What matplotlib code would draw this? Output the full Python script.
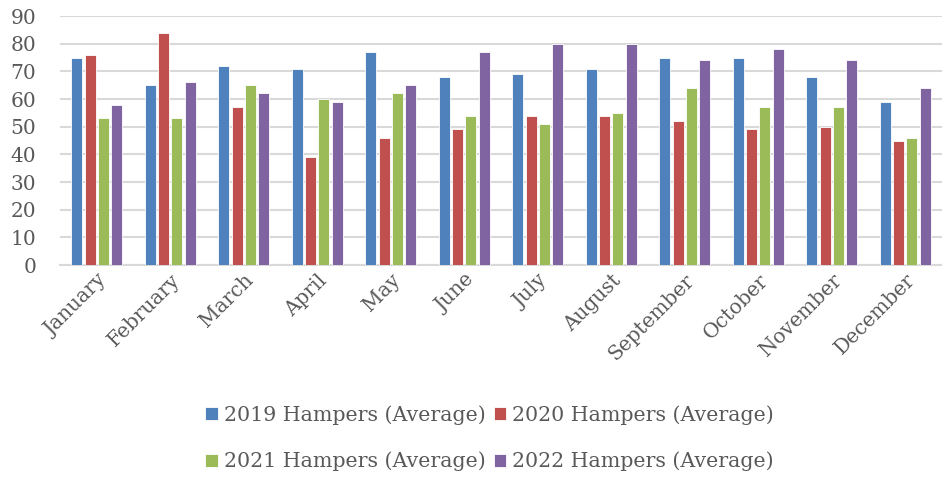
import matplotlib
matplotlib.use("Agg")
import matplotlib.pyplot as plt
import numpy as np

months = ["January", "February", "March", "April", "May", "June",
          "July", "August", "September", "October", "November", "December"]
hampers_2019 = [75, 65, 72, 71, 77, 68, 69, 71, 75, 75, 68, 59]
hampers_2020 = [76, 84, 57, 39, 46, 49, 54, 54, 52, 49, 50, 45]
hampers_2021 = [53, 53, 65, 60, 62, 54, 51, 55, 64, 57, 57, 46]
hampers_2022 = [58, 66, 62, 59, 65, 77, 80, 80, 74, 78, 74, 64]
series_labels = ["2019 Hampers (Average)", "2020 Hampers (Average)",
                 "2021 Hampers (Average)", "2022 Hampers (Average)"]
colors = ["#4f81bd", "#c0504d", "#9bbb59", "#8064a2"]
y_ticks = list(range(0, 91, 10))

plt.rcParams['font.family'] = ['DejaVu Serif']

fig = plt.figure(figsize=(9.42, 4.78), dpi=100)
ax = fig.add_axes([0.0637, 0.4456, 0.9363, 0.5209])

x = np.arange(len(months))
width = 0.15
series = [hampers_2019, hampers_2020, hampers_2021, hampers_2022]
bars = []
for i, (vals, lab, col) in enumerate(zip(series, series_labels, colors)):
    b = ax.bar(x + (i - 1.5) * 0.18, vals, width, color=col, label=lab,
               edgecolor="white", linewidth=0.6, zorder=3)
    bars.append(b)

ax.set_xlim(-0.5, len(months) - 0.5)
ax.set_ylim(0, 90)
ax.set_yticks(y_ticks)
ax.yaxis.grid(True, color="#d9d9d9", linewidth=1.5, zorder=0)
for s in ["top", "right", "left"]:
    ax.spines[s].set_visible(False)
ax.spines["bottom"].set_color("#d9d9d9")
ax.spines["bottom"].set_linewidth(1.5)
ax.tick_params(axis="both", length=0, colors="#595959", labelsize=14.5)
ax.tick_params(axis="y", pad=17)
ax.tick_params(axis="x", pad=4)
ax.set_xticks(x)
ax.set_xticklabels(months, rotation=45, ha="right", rotation_mode="anchor")

# matplotlib fills legend columns first, so reorder to get row-wise order
order = [0, 2, 1, 3]
fig.legend([bars[i] for i in order], [series_labels[i] for i in order],
           loc="lower center", bbox_to_anchor=(0.52, -0.025), ncol=2, frameon=False,
           fontsize=14.8, handlelength=0.6, handleheight=0.6, handletextpad=0.3,
           columnspacing=0.4, labelspacing=1.3, labelcolor="#595959")

fig.savefig("out.png", dpi=100)
